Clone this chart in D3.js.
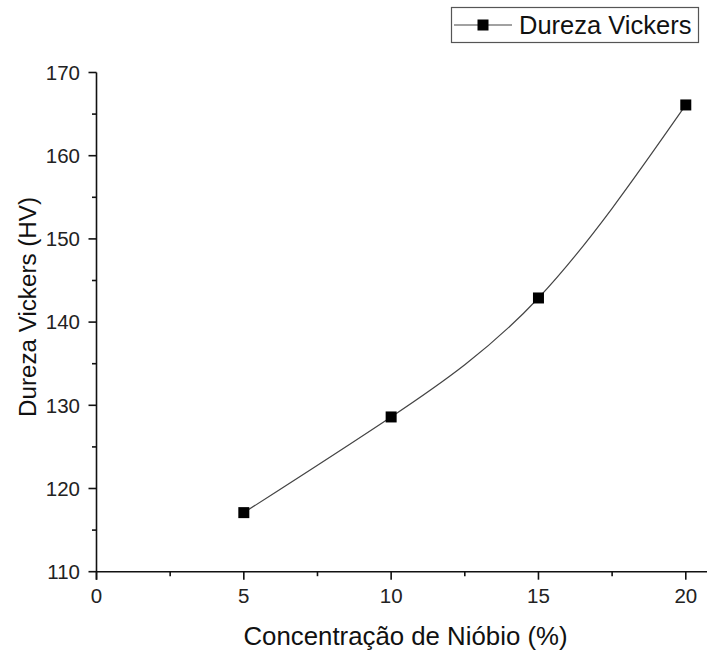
<!DOCTYPE html>
<html>
<head>
<meta charset="utf-8">
<script src="https://cdn.jsdelivr.net/npm/d3@7"></script>
<style>
  html, body { margin: 0; padding: 0; background: #fff; }
  svg { display: block; font-family: "Liberation Sans", Arial, sans-serif; }
</style>
</head>
<body>
<svg id="chart" width="707" height="654"></svg>
<script>
// Vickers hardness vs. niobium concentration
const concentration = [5, 10, 15, 20];
const hardness = [117.1, 128.6, 142.9, 166.1];
const xTicks = [0, 5, 10, 15, 20];
const yTicks = [110, 120, 130, 140, 150, 160, 170];
const seriesName = "Dureza Vickers";

const svg = d3.select("#chart");

const x = d3.scaleLinear().domain([0, 20.72]).range([96.5, 707]);
const y = d3.scaleLinear().domain([110, 170]).range([571.7, 72.5]);

// minor ticks at the half steps
const xMinor = d3.range(2.5, 20.5, 5);
const yMinor = d3.range(115, 170, 10);

const axisColor = "#111";

// x axis
const gx = svg.append("g").attr("transform", `translate(0,${y(110)})`);
gx.append("line").attr("x1", x(0)).attr("x2", 707).attr("stroke", axisColor).attr("stroke-width", 1.6);
gx.selectAll("line.major").data(xTicks).join("line").attr("class", "major")
  .attr("x1", d => x(d)).attr("x2", d => x(d)).attr("y1", 0).attr("y2", 8)
  .attr("stroke", axisColor).attr("stroke-width", 1.6);
gx.selectAll("line.minor").data(xMinor).join("line").attr("class", "minor")
  .attr("x1", d => x(d)).attr("x2", d => x(d)).attr("y1", 0).attr("y2", 4.5)
  .attr("stroke", axisColor).attr("stroke-width", 1.6);
gx.selectAll("text").data(xTicks).join("text")
  .attr("x", d => x(d)).attr("y", 31.5).attr("text-anchor", "middle")
  .attr("font-size", 20.5).attr("fill", "#222").text(d => d);

// y axis
const gy = svg.append("g").attr("transform", `translate(${x(0)},0)`);
gy.append("line").attr("y1", y(110) + 8).attr("y2", y(170)).attr("stroke", axisColor).attr("stroke-width", 1.6);
gy.selectAll("line.major").data(yTicks).join("line").attr("class", "major")
  .attr("y1", d => y(d)).attr("y2", d => y(d)).attr("x1", 0).attr("x2", -8)
  .attr("stroke", axisColor).attr("stroke-width", 1.6);
gy.selectAll("line.minor").data(yMinor).join("line").attr("class", "minor")
  .attr("y1", d => y(d)).attr("y2", d => y(d)).attr("x1", 0).attr("x2", -4.5)
  .attr("stroke", axisColor).attr("stroke-width", 1.6);
gy.selectAll("text").data(yTicks).join("text")
  .attr("x", -16.5).attr("y", d => y(d)).attr("dy", "0.36em").attr("text-anchor", "end")
  .attr("font-size", 20.5).attr("fill", "#222").text(d => d);

// axis titles
svg.append("text")
  .attr("x", 405.5).attr("y", 645)
  .attr("text-anchor", "middle").attr("font-size", 25.8).attr("fill", "#111")
  .text("Concentração de Nióbio (%)");
svg.append("text")
  .attr("transform", `translate(36,307) rotate(-90)`)
  .attr("text-anchor", "middle").attr("font-size", 24.2).attr("fill", "#111")
  .text("Dureza Vickers (HV)");

// smooth curve through the measurements
const pts = concentration.map((c, i) => [c, hardness[i]]);
const line = d3.line().x(d => x(d[0])).y(d => y(d[1])).curve(d3.curveNatural);
svg.append("path").attr("d", line(pts))
  .attr("fill", "none").attr("stroke", "#444").attr("stroke-width", 1.2);

const ms = 11;
svg.selectAll("rect.pt").data(pts).join("rect").attr("class", "pt")
  .attr("x", d => x(d[0]) - ms / 2).attr("y", d => y(d[1]) - ms / 2)
  .attr("width", ms).attr("height", ms).attr("fill", "#000");

// legend
const lg = svg.append("g");
lg.append("rect").attr("x", 451.5).attr("y", 7.5).attr("width", 247).attr("height", 35)
  .attr("fill", "#fff").attr("stroke", "#555").attr("stroke-width", 1.2);
lg.append("line").attr("x1", 454).attr("x2", 512).attr("y1", 25).attr("y2", 25)
  .attr("stroke", "#444").attr("stroke-width", 1.2);
lg.append("rect").attr("x", 483 - ms / 2).attr("y", 25 - ms / 2).attr("width", ms).attr("height", ms).attr("fill", "#000");
lg.append("text").attr("x", 519).attr("y", 33.5)
  .attr("font-size", 25.5).attr("fill", "#111").text(seriesName);
</script>
</body>
</html>
